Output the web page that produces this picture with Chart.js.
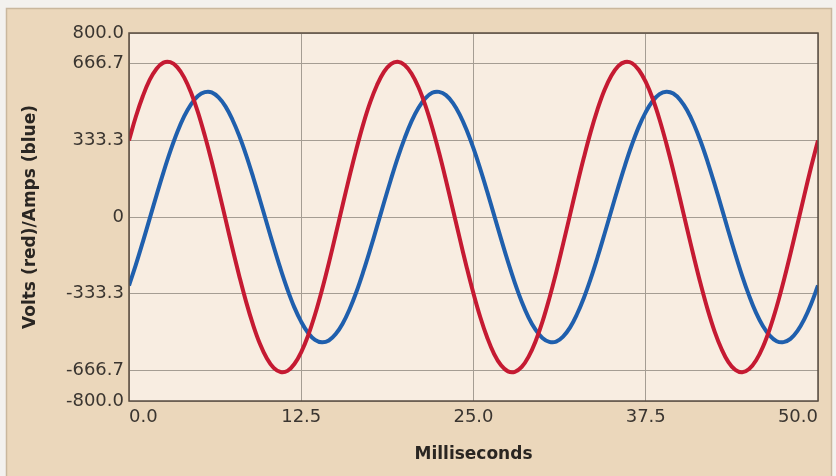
<!DOCTYPE html>
<html>
<head>
<meta charset="utf-8">
<script src="https://cdn.jsdelivr.net/npm/chart.js@4.4.1/dist/chart.umd.min.js"></script>
<style>
html,body{margin:0;padding:0;background:#f3f1ee;}
#wrap{position:relative;width:836px;height:476px;}
</style>
</head>
<body>
<div id="wrap"><canvas id="c" width="836" height="476"></canvas></div>
<script>
const timeMs = [0,0.5,1,1.5,2,2.5,3,3.5,4,4.5,5,5.5,6,6.5,7,7.5,8,8.5,9,9.5,10,10.5,11,11.5,12,12.5,13,13.5,14,14.5,15,15.5,16,16.5,17,17.5,18,18.5,19,19.5,20,20.5,21,21.5,22,22.5,23,23.5,24,24.5,25,25.5,26,26.5,27,27.5,28,28.5,29,29.5,30,30.5,31,31.5,32,32.5,33,33.5,34,34.5,35,35.5,36,36.5,37,37.5,38,38.5,39,39.5,40,40.5,41,41.5,42,42.5,43,43.5,44,44.5,45,45.5,46,46.5,47,47.5,48,48.5,49,49.5,50];
const volts = [333,437,525,596,645,671,673,652,607,541,456,354,241,118,-8,-135,-256,-369,-468,-551,-614,-656,-674,-669,-639,-587,-515,-424,-318,-201,-76,51,176,295,404,498,574,631,665,675,661,624,565,486,390,280,160,34,-93,-217,-333,-437,-525,-596,-645,-671,-673,-652,-607,-541,-456,-354,-241,-118,8,135,256,369,468,551,614,656,674,669,639,587,515,424,318,201,76,-51,-176,-295,-404,-498,-574,-631,-665,-675,-661,-624,-565,-486,-390,-280,-160,-34,93,217,333];
const amps = [-298,-207,-109,-7,95,194,286,368,437,490,526,543,542,520,481,424,353,269,175,75,-27,-129,-226,-315,-393,-456,-504,-534,-545,-537,-509,-464,-402,-326,-238,-142,-41,62,162,257,342,416,474,516,540,544,530,496,445,378,298,207,109,7,-95,-194,-286,-368,-437,-490,-526,-543,-542,-520,-481,-424,-353,-269,-175,-75,27,129,226,315,393,456,504,534,545,537,509,464,402,326,238,142,41,-62,-162,-257,-342,-416,-474,-516,-540,-544,-530,-496,-445,-378,-298];
const yTicks = [-800,-666.7,-333.3,0,333.3,666.7,800];
const yTickLabels = ['-800.0','-666.7','-333.3','0','333.3','666.7','800.0'];
const xTicks = [0,12.5,25,37.5,50];
const xTickLabels = ['0.0','12.5','25.0','37.5','50.0'];

const bgPlugin = {
  id: 'bg',
  beforeDraw(chart) {
    const ctx = chart.ctx, a = chart.chartArea;
    ctx.save();
    ctx.fillStyle = '#f3f1ee';
    ctx.fillRect(0, 0, chart.width, chart.height);
    ctx.fillStyle = '#ebd7bb';
    ctx.fillRect(6, 8, chart.width - 10, chart.height - 8);
    ctx.strokeStyle = '#c9b79d';
    ctx.lineWidth = 1.5;
    ctx.strokeRect(6.5, 8.5, chart.width - 11, chart.height);
    ctx.fillStyle = '#f8ede1';
    ctx.fillRect(a.left, a.top, a.right - a.left, a.bottom - a.top);
    ctx.restore();
  },
  afterDraw(chart) {
    const ctx = chart.ctx, a = chart.chartArea;
    ctx.save();
    ctx.strokeStyle = '#5a4c40';
    ctx.lineWidth = 1.5;
    ctx.strokeRect(a.left, a.top, a.right - a.left, a.bottom - a.top);
    ctx.restore();
  }
};

new Chart(document.getElementById('c'), {
  type: 'line',
  data: {
    datasets: [
      { label: 'Volts', data: timeMs.map((t, i) => ({x: t, y: volts[i]})), borderColor: '#c51a32', borderWidth: 4, pointRadius: 0, tension: 0.4, fill: false },
      { label: 'Amps', data: timeMs.map((t, i) => ({x: t, y: amps[i]})), borderColor: '#1f5fad', borderWidth: 4, pointRadius: 0, tension: 0.4, fill: false }
    ]
  },
  options: {
    responsive: false,
    animation: false,
    devicePixelRatio: 1,
    layout: { padding: { left: 0, top: 33, right: 18, bottom: 0 } },
    plugins: { legend: { display: false }, tooltip: { enabled: false } },
    scales: {
      x: {
        type: 'linear', min: 0, max: 50,
        afterBuildTicks: s => { s.ticks = xTicks.map(v => ({ value: v })); },
        afterFit: s => { s.height = 75; },
        ticks: {
          autoSkip: false, maxRotation: 0, padding: 6, align: 'inner',
          color: '#3a3530', font: { family: 'DejaVu Sans', size: 18 },
          callback: v => xTickLabels[xTicks.indexOf(v)]
        },
        grid: { color: '#a59d93', lineWidth: 1, drawTicks: false },
        border: { display: false },
        title: { display: true, text: 'Milliseconds', color: '#2a2622', font: { family: 'DejaVu Sans', size: 17, weight: 'bold' }, padding: { top: 4, bottom: 11 } }
      },
      y: {
        type: 'linear', min: -800, max: 800,
        afterBuildTicks: s => { s.ticks = yTicks.map(v => ({ value: v })); },
        afterFit: s => { s.width = 129; },
        ticks: {
          autoSkip: false, padding: 5,
          color: '#3a3530', font: { family: 'DejaVu Sans', size: 18 },
          callback: v => yTickLabels[yTicks.indexOf(v)]
        },
        grid: { color: '#a59d93', lineWidth: 1, drawTicks: false },
        border: { display: false },
        title: { display: true, text: 'Volts (red)/Amps (blue)', color: '#2a2622', font: { family: 'DejaVu Sans', size: 17, weight: 'bold' }, padding: { top: 20, bottom: 0 } }
      }
    }
  },
  plugins: [bgPlugin]
});
</script>
</body>
</html>
